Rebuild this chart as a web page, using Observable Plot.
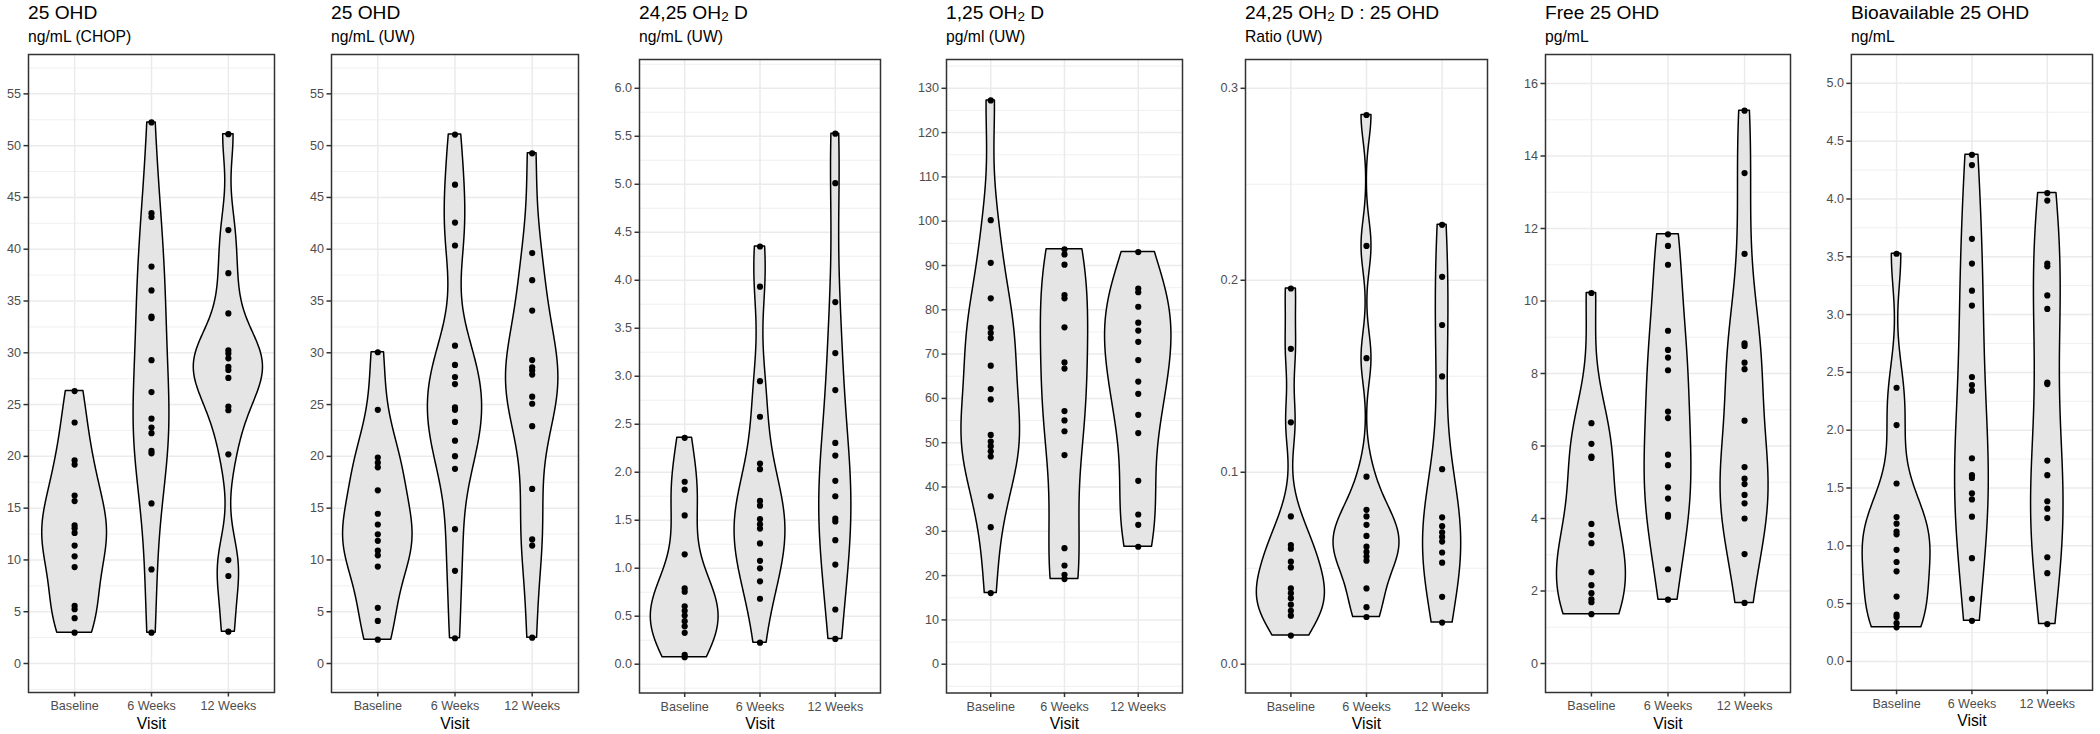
<!DOCTYPE html>
<html><head><meta charset="utf-8">
<script src="https://cdn.jsdelivr.net/npm/d3@7"></script>
<script src="https://cdn.jsdelivr.net/npm/@observablehq/plot@0.6"></script>
<style>
body{margin:0;background:#fff;}
#chart{position:relative;width:2100px;height:734px;font-family:"Liberation Sans",Arial,sans-serif;overflow:hidden;background:#fff}
.title{position:absolute;font-size:19.2px;line-height:19.2px;color:#000;white-space:nowrap}
.subtitle{position:absolute;font-size:15.7px;line-height:15.7px;color:#000;white-space:nowrap}
.sub{font-size:0.7em;position:relative;top:0.15em}
.panel{position:absolute}
</style></head><body><div id="chart"></div>
<script>
// ---- categories ----
const visits = ["Baseline", "6 Weeks", "12 Weeks"];

// ---- 25 OHD ng/mL (CHOP) ----
const chopBaseline = [26.3, 23.27, 19.61, 19.21, 16.22, 15.68, 13.33, 13.06, 12.61, 11.39, 10.35, 9.31, 5.56, 5.24, 4.38, 2.98];
const chopWeek6 = [52.24, 43.48, 43.11, 38.32, 36.02, 33.49, 33.35, 29.29, 26.21, 23.64, 22.78, 22.24, 20.52, 20.29, 15.46, 9.08, 2.98];
const chopWeek12 = [51.11, 41.85, 37.69, 33.80, 30.23, 29.92, 29.47, 28.65, 28.34, 27.57, 24.81, 24.45, 20.20, 9.99, 8.45, 3.07];

// ---- 25 OHD ng/mL (UW) ----
const uwBaseline = [30.05, 24.49, 19.88, 19.39, 18.94, 16.72, 14.46, 13.42, 12.47, 11.84, 10.89, 10.44, 9.36, 5.38, 4.11, 2.30];
const uwWeek6 = [51.07, 46.23, 42.57, 40.36, 30.69, 28.83, 27.66, 26.98, 24.72, 24.49, 23.32, 21.51, 20.02, 18.80, 12.97, 8.95, 2.44];
const uwWeek12 = [49.26, 39.63, 37.01, 34.08, 29.3, 28.6, 28.3, 27.9, 25.76, 25.08, 22.91, 16.86, 11.98, 11.39, 2.49];

// ---- 24,25 OH2 D ng/mL (UW) ----
const d2425Baseline = [2.359, 1.901, 1.818, 1.550, 1.145, 0.790, 0.755, 0.604, 0.556, 0.507, 0.448, 0.395, 0.327, 0.097, 0.073];
const d2425Week6 = [4.352, 3.933, 2.949, 2.578, 2.091, 2.032, 1.701, 1.652, 1.511, 1.457, 1.413, 1.258, 1.077, 0.999, 0.863, 0.682, 0.224];
const d2425Week12 = [5.527, 5.011, 3.773, 3.241, 2.856, 2.305, 2.174, 1.911, 1.750, 1.516, 1.487, 1.292, 1.038, 0.570, 0.263];

// ---- 1,25 OH2 D pg/ml (UW) ----
const d125Baseline = [127.26, 100.22, 90.61, 82.59, 75.93, 74.77, 73.61, 67.38, 62.10, 59.77, 51.75, 50.27, 49.21, 48.05, 46.89, 37.91, 30.94, 16.05];
const d125Week6 = [93.67, 92.51, 90.19, 83.32, 82.59, 76.04, 68.12, 66.74, 57.13, 55.02, 52.59, 47.21, 26.19, 22.28, 20.17, 19.22];
const d125Week12 = [93.04, 84.80, 83.96, 80.69, 77.09, 75.30, 72.76, 68.64, 63.79, 61.04, 56.29, 52.17, 41.40, 33.79, 31.47, 26.51];

// ---- 24,25 OH2 D : 25 OHD ratio (UW) ----
const ratioBaseline = [0.1957, 0.1643, 0.1260, 0.0770, 0.0621, 0.0602, 0.0534, 0.0504, 0.0395, 0.0370, 0.0344, 0.0310, 0.0278, 0.0253, 0.0149];
const ratioWeek6 = [0.2861, 0.2179, 0.1594, 0.0977, 0.0804, 0.0770, 0.0726, 0.0668, 0.0612, 0.0585, 0.0561, 0.0539, 0.0395, 0.0297, 0.0246];
const ratioWeek12 = [0.2289, 0.2018, 0.1767, 0.1499, 0.1016, 0.0765, 0.0719, 0.0687, 0.0663, 0.0639, 0.0582, 0.0529, 0.0351, 0.0217];

// ---- Free 25 OHD pg/mL ----
const freeBaseline = [10.22, 6.63, 6.06, 5.71, 5.67, 3.85, 3.55, 3.32, 2.52, 2.16, 1.94, 1.77, 1.69, 1.36];
const freeWeek6 = [11.84, 11.52, 11.00, 9.18, 8.65, 8.44, 8.09, 6.95, 6.77, 5.76, 5.47, 4.86, 4.55, 4.10, 4.05, 2.60, 1.76];
const freeWeek12 = [15.25, 13.53, 11.30, 8.83, 8.76, 8.30, 8.12, 6.70, 5.42, 5.10, 4.95, 4.65, 4.42, 4.00, 3.02, 1.67];

// ---- Bioavailable 25 OHD ng/mL ----
const bioBaseline = [3.526, 2.367, 2.044, 1.539, 1.248, 1.191, 1.123, 1.099, 0.965, 0.860, 0.779, 0.561, 0.404, 0.384, 0.331, 0.295];
const bioWeek6 = [4.382, 4.293, 3.655, 3.441, 3.207, 3.078, 2.460, 2.391, 2.342, 1.757, 1.611, 1.587, 1.454, 1.401, 1.252, 0.893, 0.541, 0.351];
const bioWeek12 = [4.051, 3.986, 3.441, 3.417, 3.166, 3.049, 2.411, 2.399, 1.737, 1.611, 1.385, 1.321, 1.240, 0.901, 0.763, 0.323];

// ---- tick labels ----
const ticks25 = [0, 5, 10, 15, 20, 25, 30, 35, 40, 45, 50, 55];
const ticks2425 = [0, 0.5, 1, 1.5, 2, 2.5, 3, 3.5, 4, 4.5, 5, 5.5, 6];
const ticks125 = [0, 10, 20, 30, 40, 50, 60, 70, 80, 90, 100, 110, 120, 130];
const ticksRatio = [0, 0.1, 0.2, 0.3];
const ticksFree = [0, 2, 4, 6, 8, 10, 12, 14, 16];
const ticksBio = [0, 0.5, 1, 1.5, 2, 2.5, 3, 3.5, 4, 4.5, 5];

// ---- titles ----
const titles = ["25 OHD", "25 OHD", "24,25 OH<span class='sub'>2</span> D", "1,25 OH<span class='sub'>2</span> D",
  "24,25 OH<span class='sub'>2</span> D : 25 OHD", "Free 25 OHD", "Bioavailable 25 OHD"];
const subtitles = ["ng/mL (CHOP)", "ng/mL (UW)", "ng/mL (UW)", "pg/ml (UW)", "Ratio (UW)", "pg/mL", "ng/mL"];

const panels = [
  {groups: [chopBaseline, chopWeek6, chopWeek12], ticks: ticks25, limit: 56, fmt: d3.format("d"), left: 28, right: 274, top: 54},
  {groups: [uwBaseline, uwWeek6, uwWeek12], ticks: ticks25, limit: 56, fmt: d3.format("d"), left: 331, right: 578, top: 54},
  {groups: [d2425Baseline, d2425Week6, d2425Week12], ticks: ticks2425, limit: 6, fmt: d3.format(".1f"), left: 639, right: 880, top: 58.5},
  {groups: [d125Baseline, d125Week6, d125Week12], ticks: ticks125, limit: 130, fmt: d3.format("d"), left: 946, right: 1182, top: 58.5},
  {groups: [ratioBaseline, ratioWeek6, ratioWeek12], ticks: ticksRatio, limit: 0.3, fmt: d3.format(".1f"), left: 1245, right: 1487, top: 58.5},
  {groups: [freeBaseline, freeWeek6, freeWeek12], ticks: ticksFree, limit: 16, fmt: d3.format("d"), left: 1545, right: 1790, top: 54},
  {groups: [bioBaseline, bioWeek6, bioWeek12], ticks: ticksBio, limit: 5, fmt: d3.format(".1f"), left: 1851, right: 2093, top: 54}
];
const BOTTOM = 692;

function bwNrd0(v) {
  const s = d3.deviation(v);
  const iqr = (d3.quantile(v, 0.75) - d3.quantile(v, 0.25)) / 1.34;
  let lo = Math.min(s, iqr);
  if (!(lo > 0)) lo = s || Math.abs(v[0]) || 1;
  return 0.9 * lo * Math.pow(v.length, -0.2);
}
function kde(v) {
  const bw = bwNrd0(v), lo = d3.min(v), hi = d3.max(v), n = 512, out = [];
  for (let i = 0; i < n; i++) {
    const y = lo + (hi - lo) * i / (n - 1);
    let s = 0;
    for (const x of v) { const z = (y - x) / bw; s += Math.exp(-0.5 * z * z); }
    out.push({y, d: s / (v.length * bw * Math.sqrt(2 * Math.PI))});
  }
  return out;
}

const chart = document.getElementById("chart");
panels.forEach((p, k) => {
  // titles
  const t = document.createElement("div");
  t.className = "title"; t.innerHTML = titles[k];
  t.style.left = p.left + "px"; t.style.top = (19 - 16.25) + "px";
  chart.appendChild(t);
  const st = document.createElement("div");
  st.className = "subtitle"; st.textContent = subtitles[k];
  st.style.left = p.left + "px"; st.style.top = (42.5 - 13.3) + "px";
  chart.appendChild(st);

  const dens = p.groups.map(kde);
  const maxD = d3.max(dens, rows => d3.max(rows, r => r.d));
  const violin = dens.flatMap((rows, i) => rows.map(r => ({g: i + 1, y: r.y, w: 0.45 * r.d / maxD})));
  const dots = p.groups.flatMap((arr, i) => arr.map(v => ({g: i + 1, v})));
  const L = p.limit;
  const step = p.ticks[1] - p.ticks[0];
  const lo = -0.05 * L, hi = 1.05 * L;
  const minor = [];
  for (let i = -1; i < p.ticks.length; i++) {
    const m = p.ticks[0] + (i + 0.5) * step;
    if (m >= lo && m <= hi) minor.push(m);
  }
  const mL = 45, mR = 8, mT = 8, mB = 42;
  const W = p.right - p.left + mL + mR;
  const H = BOTTOM - p.top + mT + mB;
  const plot = Plot.plot({
    width: W, height: H,
    marginLeft: mL, marginRight: mR, marginTop: mT, marginBottom: mB,
    style: {fontFamily: '"Liberation Sans", Arial, sans-serif', background: "transparent", overflow: "visible"},
    x: {type: "linear", domain: [0.4, 3.6], axis: null},
    y: {type: "linear", domain: [lo, hi], axis: null},
    marks: [
      Plot.ruleY(minor, {stroke: "#ebebeb", strokeWidth: 0.76}),
      Plot.ruleY(p.ticks, {stroke: "#ebebeb", strokeWidth: 1.5}),
      Plot.ruleX([1, 2, 3], {stroke: "#ebebeb", strokeWidth: 1.5}),
      Plot.areaX(violin, {y: "y", x1: r => r.g - r.w, x2: r => r.g + r.w, z: "g", fill: "#e5e5e5", stroke: "#000", strokeWidth: 1.5, curve: "linear"}),
      Plot.dot(dots, {x: "g", y: "v", r: 3.1, fill: "#000", stroke: "none"}),
      Plot.frame({stroke: "#333333", strokeWidth: 1.5}),
      Plot.axisY(p.ticks, {tickSize: 4.5, tickPadding: 3, tickFormat: p.fmt, fontSize: 12.6, stroke: "#333333", fill: "#4d4d4d", strokeWidth: 1.5, label: null}),
      Plot.axisX([1, 2, 3], {tickSize: 4.5, tickPadding: 4.5, tickFormat: i => visits[i - 1], fontSize: 12.6, stroke: "#333333", fill: "#4d4d4d", strokeWidth: 1.5, label: null}),
      Plot.text(["Visit"], {text: d => d, frameAnchor: "bottom", dy: 36, lineAnchor: "bottom", fontSize: 15.7, fill: "#000"})
    ]
  });
  const wrap = document.createElement("div");
  wrap.className = "panel";
  wrap.style.left = (p.left - mL) + "px";
  wrap.style.top = (p.top - mT) + "px";
  wrap.appendChild(plot);
  chart.appendChild(wrap);
});
</script>
</body></html>
